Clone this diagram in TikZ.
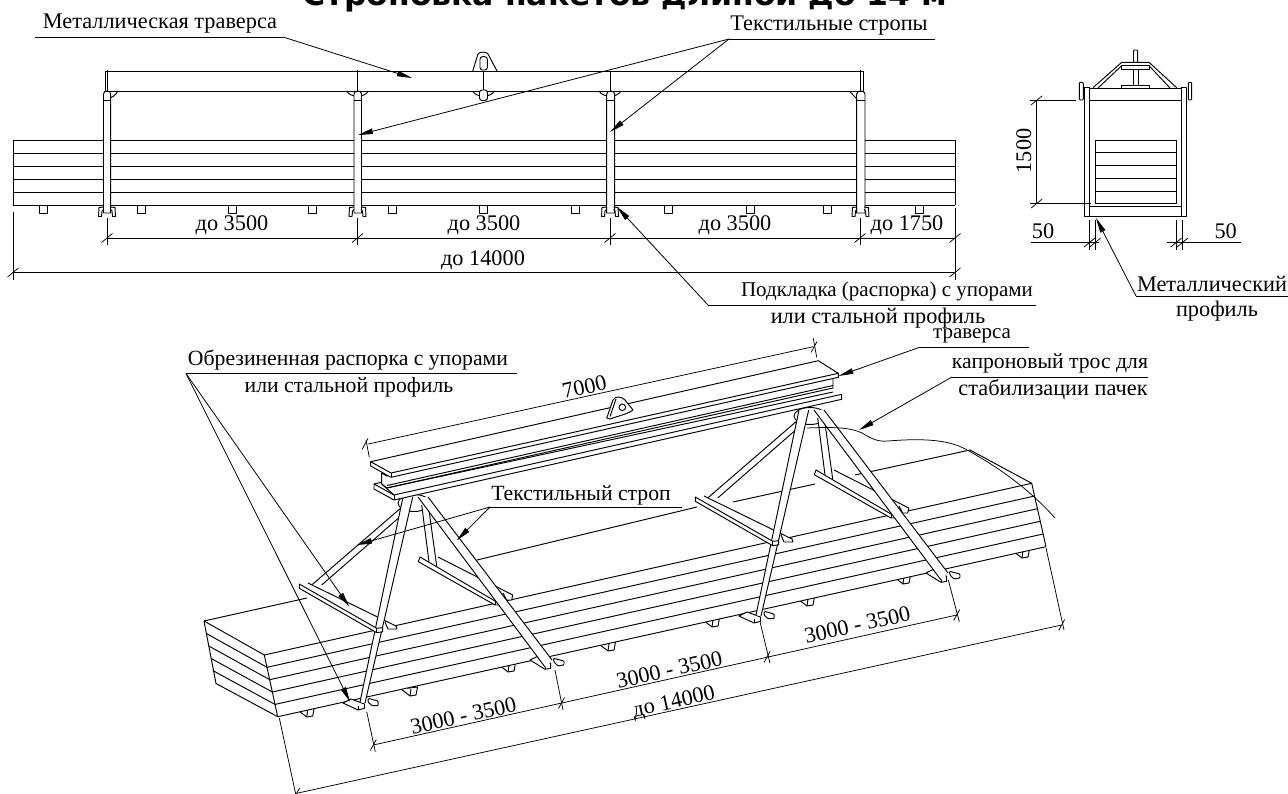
\documentclass[tikz,border=0pt]{standalone}
\usepackage{fontspec}
\setmainfont{Liberation Serif}
\newfontfamily\titlefont{DejaVu Sans}
\usetikzlibrary{arrows.meta}
\tikzset{
  ln/.style={line width=0.95pt,line join=round},
  thin line/.style={line width=0.75pt,line join=round},
  sh/.style={draw,fill=white,line width=0.95pt,line join=round},
  leader/.style={line width=0.8pt,-{Triangle[length=15pt,width=5.5pt]}},
  shelf/.style={line width=0.8pt},
  lbl/.style={font=\fontsize{22.3}{24}\selectfont,inner sep=0pt,anchor=base},
  lbm/.style={lbl,font=\fontsize{21.7}{24}\selectfont},
  lbs/.style={lbl,font=\fontsize{21}{24}\selectfont},
}
\newcommand\tkh[2]{\draw[thin line] (#1-5.5,#2+4.5) -- (#1+5.5,#2-4.5);}
\newcommand\tks[2]{\draw[thin line] (#1-3,#2+5.5) -- (#1+3,#2-5.5);}
\newcommand\hk[1]{%
  \begin{scope}[shift={(#1,0)}]
  \draw[ln] (-3.5,207) -- (-8,207.5) -- (-8.5,216.5) -- (-5.5,216.5) -- (-5,211) -- (-3.5,209.5);
  \draw[ln] (3.5,207) -- (8,207.5) -- (8.5,216.5) -- (5.5,216.5) -- (5,211) -- (3.5,209.5);
  \end{scope}}
\newcommand\slingp[4]{\fill[white] #1 -- #2 -- #4 -- #3 -- cycle; \draw[ln] #1 -- #2; \draw[ln] #3 -- #4;}
\newcommand\batten[2]{%
  \begin{scope}[shift={(#1,#2)}]
  \path[sh] (-9,-3) -- (0,4) -- (6,3) -- (7.5,-5) -- cycle;
  \draw[ln] (0,4) -- (1,-3);
  \end{scope}}
\newcommand\slingset{%
  % lower bars
  \path[sh,rounded corners=1pt] (368.3,698.3) -- (378,701) -- (378.3,705.7) -- (372,705.7) -- (368,702) -- cycle;
  \path[sh] (343,703) -- (358,710) -- (364.5,708.3) -- (364.5,704) -- (351,699) -- cycle;
  \draw[ln] (358,706) -- (358,710);
  \path[sh,rounded corners=1pt] (553.3,658.3) -- (564,661) -- (564,665) -- (558,666) -- (554,662) -- cycle;
  \path[sh] (530,660) -- (545,669.3) -- (550.7,668.3) -- (550.7,663.3) -- (536.7,656.7) -- cycle;
  \draw[ln] (545,665) -- (545,669.3);
  % rear bar of the near spreader
  \fill[white] (305,583) -- (396,626) -- (397,629) -- (388,629) -- (380,632) -- cycle;
  \draw[ln] (308,583) -- (396,626) -- (397,629) -- (388,629) -- (385,622);
  % rear bar of the far spreader
  \fill[white] (438,557) -- (512.7,595) -- (511.7,600) -- (506.7,600) -- (497,605) -- cycle;
  \draw[ln] (438,557) -- (512.7,595) -- (511.7,600) -- (506.7,600) -- (503,593);
  % hub
  \path[sh] (414,503) ellipse (16 and 8.5);
  % short slings
  \slingp{(402,507)}{(311.7,585)}{(402,515)}{(321.7,585)}
  \slingp{(421.7,505)}{(429,562)}{(428,503)}{(436.7,566)}
  % near long sling
  \slingp{(403,497)}{(360,702)}{(412.7,497)}{(365,703)}
  % cross bars
  \path[sh] (299.3,584) -- (376.7,628.3) -- (382.7,627.7) -- (382.7,631.7) -- (376.7,632.7) -- (299.3,588.3) -- cycle;
  \draw[ln] (376.7,628.3) -- (376.7,632.7);
  \path[sh] (420,557) -- (495,601) -- (498.3,600.7) -- (499.3,605) -- (495,605) -- (418.3,561.7) -- cycle;
  \draw[ln] (495,601) -- (495,605);
  % far long sling
  \slingp{(418,497)}{(545,667)}{(428,497)}{(552,660)}
}
\begin{document}
\begin{tikzpicture}[x=1pt,y=-1pt]
\useasboundingbox (0,0) rectangle (1288,794);
\fill[white] (0,0) rectangle (1288,794);
\clip (0,0) rectangle (1288,794);

\node[inner sep=0pt,anchor=base,font=\titlefont\bfseries\fontsize{31.5}{33}\selectfont] (title) at (625,5.5) {Строповка пакетов длиной до 14 м};

%% ---------- side elevation ----------
\foreach \y in {140,153.5,166.5,179.5,192,205} \draw[ln] (13,\y) -- (955,\y);
\draw[ln] (13,140) -- (13,205);
\draw[ln] (955,140) -- (955,205);
\foreach \a in {39.5,137.5,228.5,308,388,479.5,571,664.3,746,823.3,915.7}
  \draw[ln] (\a,205) rectangle (\a+8,213.3);
% traverse
\draw[ln] (105,71) rectangle (863,91);
\draw[ln] (107,70) -- (107,91);
\draw[ln] (357.5,70) -- (357.5,91);
\draw[ln] (610,71) -- (610,91);
\draw[ln] (860,70) -- (860,91);
\draw[ln] (483.5,71) -- (483.5,91);
% brackets
\foreach \c in {357.5,610}
  \draw[ln] (\c-11,91) .. controls (\c-7,98) and (\c+7,98) .. (\c+11,91);
\draw[ln] (472.5,91) .. controls (476.5,98) and (490.5,98) .. (494.5,91);
\draw[ln] (107,98) .. controls (112,98) and (115,96) .. (118,91);
\draw[ln] (856,98) .. controls (854,96) and (852,94) .. (849.5,91);
\draw[sh,rounded corners=2.5pt] (479.5,90) rectangle (487.5,100.5);
% lifting lug
\draw[ln] (472.7,71) -- (478,54) .. controls (479,51.5) and (487,51.5) .. (488,54) -- (497,71);
\draw[ln,rounded corners=2.5pt] (480,56.7) rectangle (487.3,70);
% slings
\foreach \l/\r in {103.5/110.7,354/361.5,606.7/614.7,856.7/865}{
  \fill[white] (\l,92) rectangle (\r,213);
  \draw[ln] (\l,94) -- (\l,213) -- (\r,213) -- (\r,94) .. controls (\r,90) and (\l,90) .. (\l,94);
  \draw[ln] (\l,100.5) -- (\r,100.5);
}
\hk{107} \hk{357.5} \hk{610} \hk{860.5}
% dimensions
\draw[thin line] (107,238) -- (955,238);
\draw[thin line] (13,272.5) -- (955,272.5);
\foreach \x in {107,357.5,610,860}{ \draw[thin line] (\x,218) -- (\x,245); \tkh{\x}{238} }
\draw[thin line] (13,212) -- (13,280);
\draw[thin line] (955,208) -- (955,280);
\tkh{955}{238} \tkh{955}{272.5} \tkh{13}{272.5}
\node[lbl] (d1) at (232,231) {до 3500};
\node[lbl] (d2) at (484,231) {до 3500};
\node[lbl] (d3) at (735,231) {до 3500};
\node[lbl] (d4) at (907,231) {до 1750};
\node[lbl] (d5) at (483,266) {до 14000};
% callouts
\node[lbl] (lbA) at (160,29) {Металлическая траверса};
\coordinate (a0) at (35,37); \coordinate (a1) at (283,37); \coordinate (a2) at (412,78);
\draw[shelf] (a0) -- (a1);
\draw[leader] (a1) -- (a2);
\node[lbl] (lbB) at (829,31) {Текстильные стропы};
\coordinate (b0) at (935,39); \coordinate (b1) at (729,39); \coordinate (b2) at (358,135); \coordinate (b3) at (610,132);
\draw[shelf] (b0) -- (b1);
\draw[leader] (b1) -- (b2);
\draw[leader] (b1) -- (b3);
\node[lbs] (lbC) at (887,297) {Подкладка (распорка) с упорами};
\node[lbl] (lbC2) at (878,324) {или стальной профиль};
\coordinate (c0) at (1036,305); \coordinate (c1) at (708,305); \coordinate (c2) at (617,207);
\draw[shelf] (c0) -- (c1);
\draw[leader] (c1) -- (c2);

%% ---------- end view ----------
\draw[sh,rounded corners=1pt] (1133.5,50) rectangle (1137.7,62.5);
\draw[ln] (1093,87.7) -- (1121.7,62.3) -- (1149,62.3) -- (1176.7,87.7);
\draw[ln] (1098,88) -- (1121.7,65.7) -- (1149,65.7) -- (1170,88);
\draw[sh] (1121.7,65.7) rectangle (1149,69);
\draw[sh] (1133.4,69) rectangle (1138.3,85.7);
\draw[sh] (1121.7,85.7) rectangle (1149,88.3);
\draw[ln] (1089.3,88.3) rectangle (1181.7,100);
\draw[ln] (1089.3,206.7) rectangle (1181.7,216);
\foreach \y in {140.7,152.7,165.3,178.3,191.3} \draw[ln] (1095,\y) -- (1176.7,\y);
\draw[ln] (1095,140.7) rectangle (1176.7,203.3);
\draw[sh] (1084.7,87) rectangle (1089.3,216);
\draw[sh] (1181.7,87) rectangle (1186,216);
\draw[sh,rounded corners=1pt] (1079.3,82.3) rectangle (1083.3,100);
\draw[sh,rounded corners=1pt] (1188.3,82.3) rectangle (1191.7,100);
% dimensions of end view
\draw[thin line] (1030,100.3) -- (1076,100.3);
\draw[thin line] (1030,203.5) -- (1091,203.5);
\draw[thin line] (1036.7,100.3) -- (1036.7,203.5);
\tkh{1036.7}{100.3}\tkh{1036.7}{203.5}
\node[lbl,rotate=90] (d6) at (1031,151) {1500};
\draw[thin line] (1030.7,242.7) -- (1098.7,242.7);
\draw[thin line] (1167,242.7) -- (1240.7,242.7);
\foreach \x in {1089.3,1095,1176,1182.3}{ \draw[thin line] (\x,220) -- (\x,250); \tkh{\x}{242.7} }
\node[lbl] (d7) at (1043,239) {50};
\node[lbl] (d8) at (1225.7,239) {50};
\node[lbl] (lbD) at (1212,292) {Металлический};
\node[lbl] (lbD2) at (1217,317) {профиль};
\coordinate (e0) at (1288,296); \coordinate (e1) at (1136,296); \coordinate (e2) at (1096,218);
\draw[shelf] (e0) -- (e1);
\draw[leader] (e1) -- (e2);

%% ---------- perspective view ----------
\foreach \x/\y in {306.7/713,410/692,508/668,608/647,712/623,807/602,903/580,1022/554} \batten{\x}{\y}
% bundle
\path[fill=white] (204,621) -- (970,450) -- (1031.7,483.3) -- (1046,546.7) -- (277.7,716.7) -- (216,683.5) -- cycle;
\draw[ln] (204,621) -- (216,683.5) -- (277.7,716.7);
\draw[ln] (204,621) -- (264.3,655);
\draw[ln] (206.4,633.5) -- (267,667.3);
\draw[ln] (208.8,646) -- (269.7,679.7);
\draw[ln] (211.2,658.5) -- (272.3,692);
\draw[ln] (213.6,671) -- (275,704.4);
\draw[ln] (264.3,655) -- (277.7,716.7);
\draw[ln] (264.3,655) -- (1031.7,483.3);
\draw[ln] (267,667.3) -- (1034.6,496);
\draw[ln] (269.7,679.7) -- (1037.4,508.7);
\draw[ln] (272.3,692) -- (1040.3,521.3);
\draw[ln] (275,704.4) -- (1043.1,534);
\draw[ln] (277.7,716.7) -- (1046,546.7);
\draw[ln] (1031.7,483.3) -- (1046,546.7);
\draw[ln] (970,450) -- (1031.7,483.3);
\draw[ln] (204,621) -- (307,598);
\draw[ln] (477,560) -- (697,507);
\draw[ln] (733,502) -- (815,484);
\draw[ln] (855,475) -- (970,450);
% sling sets
\slingset
\begin{scope}[shift={(396,-87)}]\slingset\end{scope}
% rope
\draw[thin line] (807,428) .. controls (830,427) and (850,427) .. (862,433) .. controls (872,439) and (878,442) .. (888,441) .. controls (925,438) and (950,440) .. (967,450) .. controls (1000,468) and (1030,490) .. (1055,518);
% beam
\path[sh] (374,484) -- (394,495) -- (841.7,394.3) -- (841.7,399.3) -- (394,500) -- (374,489) -- cycle;
\draw[ln] (394,495) -- (394,500);
\path[sh] (381.7,473) -- (381.7,484) -- (386.7,488) -- (833,388) -- (833,378) -- (386.7,476) -- cycle;
\draw[ln] (386.7,488) -- (833,392);
\draw[ln] (387,485.5) -- (833,385.5);
\draw[ln] (374,484) -- (381.7,482.2);
\draw[ln] (381.7,484) -- (394,495);
\path[sh] (370.7,461.7) -- (818.3,360.7) -- (838.3,373.3) -- (838.3,377.3) -- (391,477.3) -- (370.7,466) -- cycle;
\draw[ln] (391,473) -- (838.3,373.3);
\draw[ln] (391,473) -- (391,477.3);
\draw[ln] (370.7,461.7) -- (391,473);
% lifting lug
\path[sh] (606.7,418) -- (613,400) .. controls (615,396) and (621,396) .. (625,400) -- (633,410) .. controls (628,414) and (618,416) .. (610,419) -- cycle;
\draw[ln] (610,416.5) -- (616,399);
\path[sh] (622.3,407.3) circle (3.3);
% dimensions
\draw[thin line] (368.3,444) -- (813.3,346.7);
\draw[thin line] (366,440) -- (369.3,457.3);
\draw[thin line] (813.3,338.3) -- (816.7,357.3);
\tks{365}{444}\tks{814}{347}
\node[lbl,rotate=12.6] (d9) at (586,394) {7000};
\draw[thin line] (373.3,745) -- (956.7,615);
\draw[thin line] (366.7,711.7) -- (375.3,751.7);
\draw[thin line] (555,670) -- (563,710);
\draw[thin line] (760,621.7) -- (770,663.3);
\draw[thin line] (948.3,580) -- (959.3,621.7);
\tks{373.3}{745}\tks{561.5}{703}\tks{767}{657}\tks{956.7}{615}
\draw[thin line] (296.7,793.3) -- (1061.7,625);
\draw[thin line] (279.3,718) -- (297,800);
\draw[thin line] (1046,548) -- (1064,630);
\tks{296.7}{793.3}\tks{1061.7}{625}
\node[lbl,rotate=12.6] (d10) at (465,723) {3000 - 3500};
\node[lbl,rotate=12.6] (d11) at (671,677) {3000 - 3500};
\node[lbl,rotate=12.6] (d12) at (859,632) {3000 - 3500};
\node[lbl,rotate=12.6] (d13) at (675,708) {до 14000};
% callouts of the perspective view
\node[lbm] (lbF) at (348,366) {Обрезиненная распорка с упорами};
\node[lbm] (lbF2) at (349,392) {или стальной профиль};
\coordinate (f0) at (517,373.5); \coordinate (f1) at (186,373.5); \coordinate (f2) at (349.3,606.7); \coordinate (f3) at (350,701.7);
\draw[shelf] (f0) -- (f1);
\draw[leader] (f1) -- (f2);
\draw[leader] (f1) -- (f3);
\node[lbm] (lbG) at (581,500) {Текстильный строп};
\coordinate (g0) at (682,507); \coordinate (g1) at (490,507); \coordinate (g2) at (357,545); \coordinate (g3) at (456.7,540.5);
\draw[shelf] (g0) -- (g1);
\draw[leader] (g1) -- (g2);
\draw[leader] (g1) -- (g3);
\node[lbs] (lbH) at (972,339) {траверса};
\coordinate (h0) at (1029,347.5); \coordinate (h1) at (919,347.5); \coordinate (h2) at (838.5,376);
\draw[shelf] (h0) -- (h1);
\draw[leader] (h1) -- (h2);
\node[lbm] (lbI) at (1050,368) {капроновый трос для};
\node[lbl] (lbI2) at (1053,395) {стабилизации пачек};
\coordinate (i0) at (1148,377); \coordinate (i1) at (952,377); \coordinate (i2) at (859,430);
\draw[shelf] (i0) -- (i1);
\draw[leader] (i1) -- (i2);
\end{tikzpicture}
\end{document}
